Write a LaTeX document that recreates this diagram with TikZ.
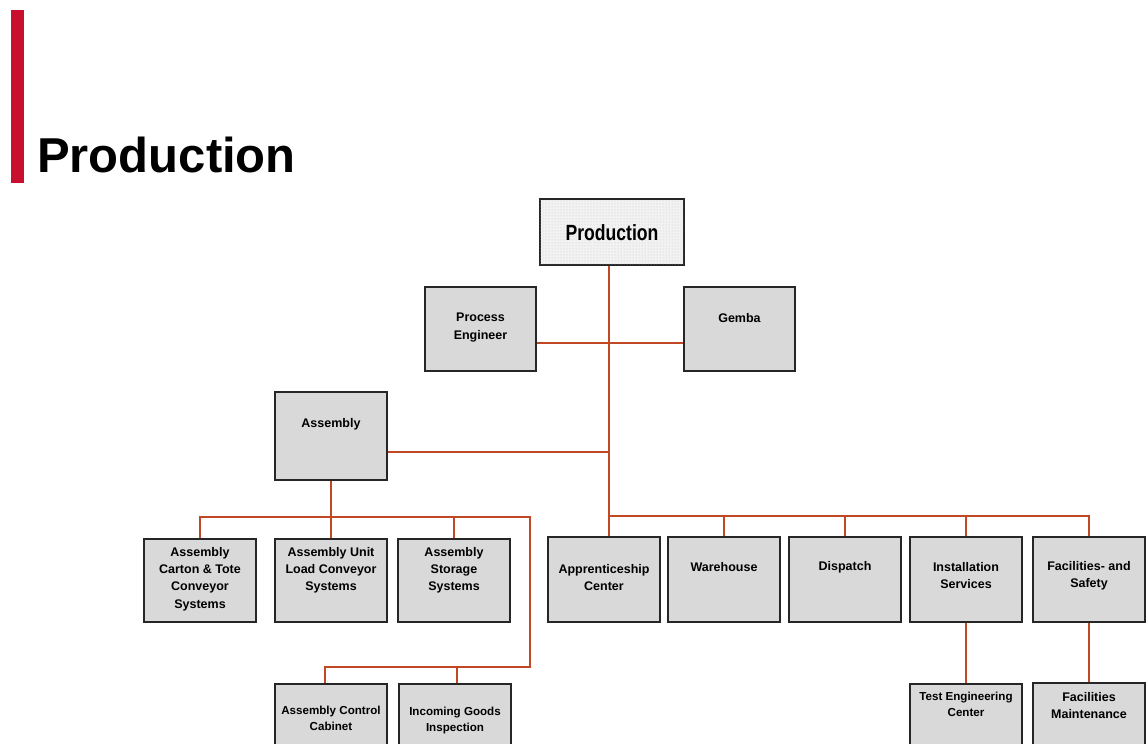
\documentclass[tikz,border=0pt]{standalone}
\usepackage{fontspec}
\setmainfont{Liberation Sans}
\usetikzlibrary{patterns}
\definecolor{barred}{RGB}{200,16,46}
\definecolor{linkred}{RGB}{192,72,36}
\definecolor{boxgray}{RGB}{217,217,217}
\definecolor{boxedge}{RGB}{38,38,38}
\tikzset{
  orgbox/.style={draw=boxedge, line width=1.3pt, fill=boxgray, inner sep=0pt},
  boxtext/.style={inner sep=0pt, align=center, font=\bfseries\fontsize{12.5}{17.3}\selectfont},
  smalltext/.style={inner sep=0pt, align=center, font=\bfseries\fontsize{11.6}{15.8}\selectfont},
  conn/.style={draw=linkred, line width=2pt},
}
% box: name, x1, y1, x2, y2, centre of first text line, text style, text
\newcommand\orgbox[8]{%
  \node[orgbox, minimum width={#4-#2}, minimum height={#5-#3}] (#1) at ({(#2+#4)/2},{(#3+#5)/2}) {};
  \node[#7, anchor=north] (#1-t) at ({(#2+#4)/2},{#6-5}) {#8};
}
\begin{document}
\begin{tikzpicture}[x=1pt, y=-1pt]
\clip (0,0) rectangle (1146,744);
\fill[white] (0,0) rectangle (1146,744);

% heading
\fill[barred] (11,10) rectangle (24,183);
\node[anchor=base west, inner sep=0pt, font=\bfseries\fontsize{49}{55}\selectfont] (title) at (37,172) {Production};

% top box
\node[orgbox, fill=gray!10, minimum width=144, minimum height=66] (prod) at (612,232) {};
\fill[pattern=dots, pattern color=gray!45] (prod.south west) rectangle (prod.north east);
\draw[boxedge, line width=1.3pt] (prod.south west) rectangle (prod.north east);
\node[inner sep=0pt, font=\fontsize{22}{24}\selectfont] (prod-t) at (612,233) {\scalebox{0.8}[1]{\textbf{Production}}};

% staff units
\orgbox{pe}{425}{287}{536}{371}{318}{boxtext}{Process\\Engineer}
\orgbox{gemba}{684}{287}{795}{371}{318}{boxtext}{Gemba}
\orgbox{asm}{275}{392}{387}{480}{423}{boxtext}{Assembly}

% assembly units
\orgbox{c1}{144}{539}{256}{622}{552}{boxtext}{Assembly\\Carton \& Tote\\Conveyor\\Systems}
\orgbox{c2}{275}{539}{387}{622}{552}{boxtext}{Assembly Unit\\Load Conveyor\\Systems}
\orgbox{c3}{398}{539}{510}{622}{552}{boxtext}{Assembly\\Storage\\Systems}
\orgbox{acc}{275}{684}{387}{770}{711}{smalltext}{Assembly Control\\Cabinet}
\orgbox{igi}{399}{684}{511}{770}{712}{smalltext}{Incoming Goods\\Inspection}

% departments
\orgbox{app}{548}{537}{660}{622}{569}{boxtext}{Apprenticeship\\Center}
\orgbox{wh}{668}{537}{780}{622}{567}{boxtext}{Warehouse}
\orgbox{dis}{789}{537}{901}{622}{566}{boxtext}{Dispatch}
\orgbox{inst}{910}{537}{1022}{622}{567}{boxtext}{Installation\\Services}
\orgbox{fac}{1033}{537}{1145}{622}{566}{boxtext}{Facilities- and\\Safety}
\orgbox{tec}{910}{684}{1022}{770}{697}{smalltext}{Test Engineering\\Center}
\orgbox{fm}{1033}{683}{1145}{770}{697}{boxtext}{Facilities\\Maintenance}

% bus coordinates
\coordinate (busA) at (530,517);
\coordinate (busB) at (530,667);
\coordinate (busR) at (1089,516);

% connectors
\draw[conn] ([xshift=-3pt]prod.south) -- ([xshift=-3pt]prod.south |- app.north);
\draw[conn] (pe.east |- 0,343) -- (gemba.west |- 0,343);
\draw[conn] (asm.east |- 0,452) -- ([xshift=-3pt]prod.south |- 0,452);
\draw[conn] ([xshift=-3pt]prod.south |- busR) -- (fac.north |- busR) -- (fac.north);
\draw[conn] (wh.north) -- (wh.north |- busR);
\draw[conn] (dis.north) -- (dis.north |- busR);
\draw[conn] (inst.north) -- (inst.north |- busR);
\draw[conn] (inst.south) -- (tec.north);
\draw[conn] (fac.south) -- (fm.north);

\draw[conn] (asm.south) -- (c2.north);
\draw[conn] (c1.north) -- (c1.north |- busA) -- (busA) -- (busB) -- ([xshift=-6pt]acc.north |- busB) -- ([xshift=-6pt]acc.north);
\draw[conn] (c3.north) -- (c3.north |- busA);
\draw[conn] ([xshift=2pt]igi.north) -- ([xshift=2pt]igi.north |- busB);
\end{tikzpicture}
\end{document}
